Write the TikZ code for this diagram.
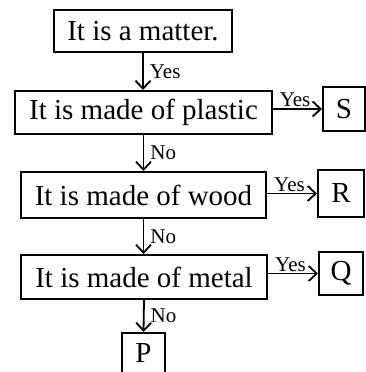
\documentclass[tikz,border=0pt]{standalone}
\usepackage{fontspec}
\setmainfont{Liberation Serif}
\usetikzlibrary{arrows.meta}
\begin{document}
\begin{tikzpicture}[x=1pt,y=-1pt,
  box/.style={draw, line width=2pt, inner sep=0pt, align=center,
    font=\fontsize{29}{30}\selectfont},
  arr/.style={line width=1.8pt, -{Straight Barb[length=8pt,width=15pt,line width=1.8pt]}},
  lbl/.style={font=\fontsize{21}{22}\selectfont, inner sep=1pt}]
\useasboundingbox[fill=white] (0,0) rectangle (366,372);
\node[box, minimum width=178pt, minimum height=42pt] (m) at (143,31) {It is a matter.};
\node[box, minimum width=257pt, minimum height=43pt] (pl) at (143.5,112.5) {It is made of plastic};
\node[box, minimum width=42pt, minimum height=44pt] (s) at (344,109) {S};
\node[box, minimum width=245pt, minimum height=46pt] (wd) at (143.5,195) {It is made of wood};
\node[box, minimum width=46pt, minimum height=47pt] (r) at (341,193.5) {R};
\node[box, minimum width=246pt, minimum height=44pt] (mt) at (144,277) {It is made of metal};
\node[box, minimum width=44pt, minimum height=43pt] (q) at (341,273.5) {Q};
\node[box, minimum width=43pt, minimum height=40pt] (p) at (143.5,353) {P};
% vertical arrows
\draw[arr] (m.south) -- node[lbl, right=5pt] {Yes} (m.south |- pl.north);
\draw[arr] (pl.south) -- node[lbl, right=5pt] {No} (pl.south |- wd.north);
\draw[arr] (wd.south) -- node[lbl, right=5pt] {No} (wd.south |- mt.north);
\draw[arr] (mt.south) -- node[lbl, right=5pt] {No} (p.north);
% horizontal arrows
\draw[arr] (s.west -| pl.east) -- node[lbl, above=0pt, pos=0.45] {Yes} (s.west);
\draw[arr] (r.west -| wd.east) -- node[lbl, above=0pt, pos=0.45] {Yes} (r.west);
\draw[arr] (q.west -| mt.east) -- node[lbl, above=0pt, pos=0.45] {Yes} (q.west);
\end{tikzpicture}
\end{document}
